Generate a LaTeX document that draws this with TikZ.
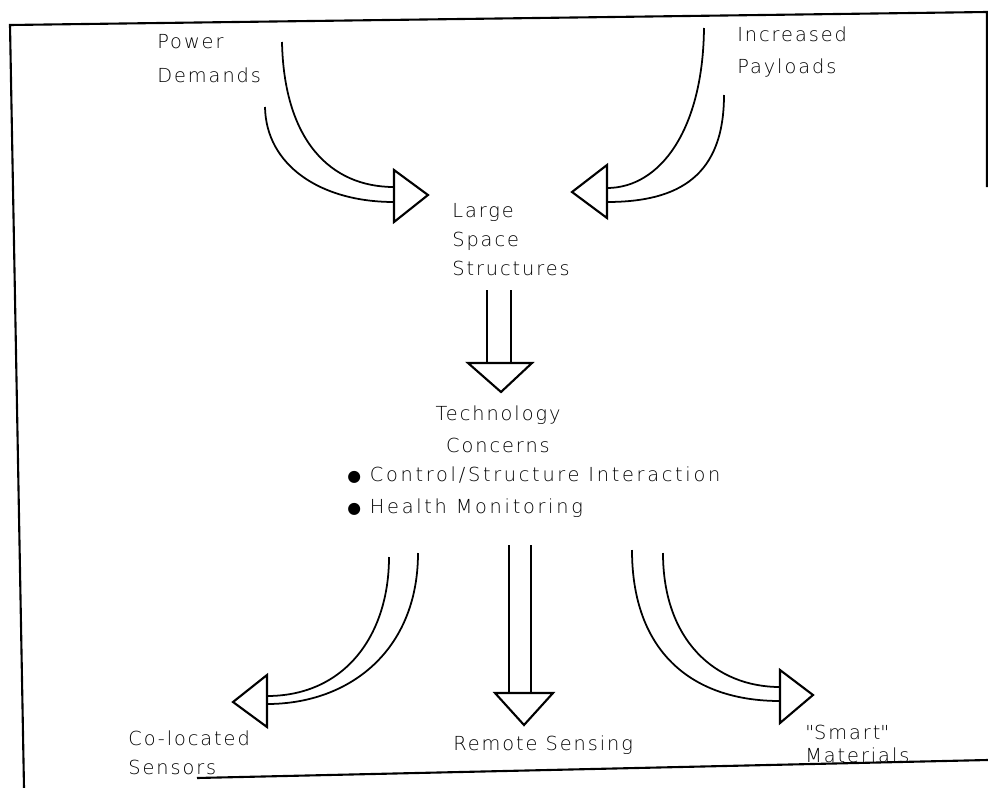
\documentclass[tikz,border=0pt]{standalone}
\usepackage{fontspec}
\setmainfont{DejaVu Sans}[UprightFont={DejaVu Sans ExtraLight}, BoldFont={DejaVu Sans}, LetterSpace=10]
\newfontfamily\symfont{DejaVu Sans}

\begin{document}
\begin{tikzpicture}[x=0.02cm, y=-0.02cm,
        plaintext/.style={inner sep=0pt, font=\fontsize{11}{18.2}\selectfont},
        flowline/.style={line width=1pt},
        flowhead/.style={line width=1.2pt, fill=white, line join=miter},
        frameline/.style={line width=1.2pt}]
            \useasboundingbox (0,0) rectangle (988,788);
            % Frame
            \draw[frameline] (24,788) -- (10,25) -- (987,12) -- (987,187);
            \draw[frameline] (197,778) -- (988,760);
            % Texts
            \node[plaintext, anchor=north west, align=left,
                  font=\fontsize{11}{19.3}\selectfont]        (power)   at (157, 34) {Power\\Demands};
            \node[plaintext, anchor=north west, align=left]   (payload) at (737, 26) {Increased\\Payloads};
            \node[plaintext, anchor=north west, align=left,
                  font=\fontsize{11}{16.4}\selectfont]        (lss)     at (452,203) {Large\\Space\\Structures};
            \node[plaintext, anchor=north, align=center]      (tech)    at (498,405) {Technology\\Concerns};
            \node[plaintext, anchor=north west, align=left,
                  font=\fontsize{11}{18.2}\selectfont\addfontfeature{LetterSpace=14}]
                                                              (techlist) at (347,466) {{\symfont\fontsize{9}{9}\selectfont ●} Control/Structure Interaction\\{\symfont\fontsize{9}{9}\selectfont ●} Health Monitoring};
            \node[plaintext, anchor=north west, align=left,
                  font=\fontsize{11}{16.6}\selectfont]        (coloc)   at (128,730) {Co-located\\Sensors};
            \node[plaintext, anchor=base west]                (remote)  at (453,750) {Remote Sensing};
            \node[plaintext, anchor=north west, align=left,
                  font=\fontsize{11}{13}\selectfont]          (smart)   at (805,725) {\textquotedbl Smart\textquotedbl\\Materials};
            % Power Demands -> Large Space Structures
            \coordinate (powertip) at (428,195);
            \draw[flowline] (282, 42) .. controls (284,140) and (330,187) .. (394,187);
            \draw[flowline] (265,107) .. controls (266,165) and (320,202) .. (394,202);
            \draw[flowhead] (powertip) -- ++(-34,-25) -- ++(0,52) -- cycle;
            % Increased Payloads -> Large Space Structures
            \coordinate (payloadtip) at (572,192);
            \draw[flowline] (704, 28) .. controls (703,130) and (660,188) .. (607,188);
            \draw[flowline] (724, 95) .. controls (724,175) and (680,202) .. (607,202);
            \draw[flowhead] (payloadtip) -- ++(35,-27) -- ++(0,53) -- cycle;
            % Large Space Structures -> Technology Concerns
            \coordinate (techtip) at (501,392);
            \draw[flowline] (487,290) -- (487,363);
            \draw[flowline] (511,290) -- (511,363);
            \draw[flowhead] (techtip) -- ++(-33,-29) -- ++(64,0) -- cycle;
            % Technology Concerns -> Co-located Sensors
            \coordinate (coloctip) at (233,702);
            \draw[flowline] (389,557) .. controls (389,635) and (345,696) .. (267,696);
            \draw[flowline] (418,553) .. controls (418,650) and (350,704) .. (267,704);
            \draw[flowhead] (coloctip) -- ++(34,-27) -- ++(0,52) -- cycle;
            % Technology Concerns -> Remote Sensing
            \coordinate (remotetip) at (524,725);
            \draw[flowline] (509,545) -- (509,693);
            \draw[flowline] (531,545) -- (531,693);
            \draw[flowhead] (remotetip) -- ++(-29,-32) -- ++(58,0) -- cycle;
            % Technology Concerns -> "Smart" Materials
            \coordinate (smarttip) at (813,695);
            \draw[flowline] (632,550) .. controls (632,650) and (690,701) .. (780,701);
            \draw[flowline] (663,553) .. controls (663,640) and (715,687) .. (780,687);
            \draw[flowhead] (smarttip) -- ++(-33,-25) -- ++(0,53) -- cycle;
\end{tikzpicture}
\end{document}
